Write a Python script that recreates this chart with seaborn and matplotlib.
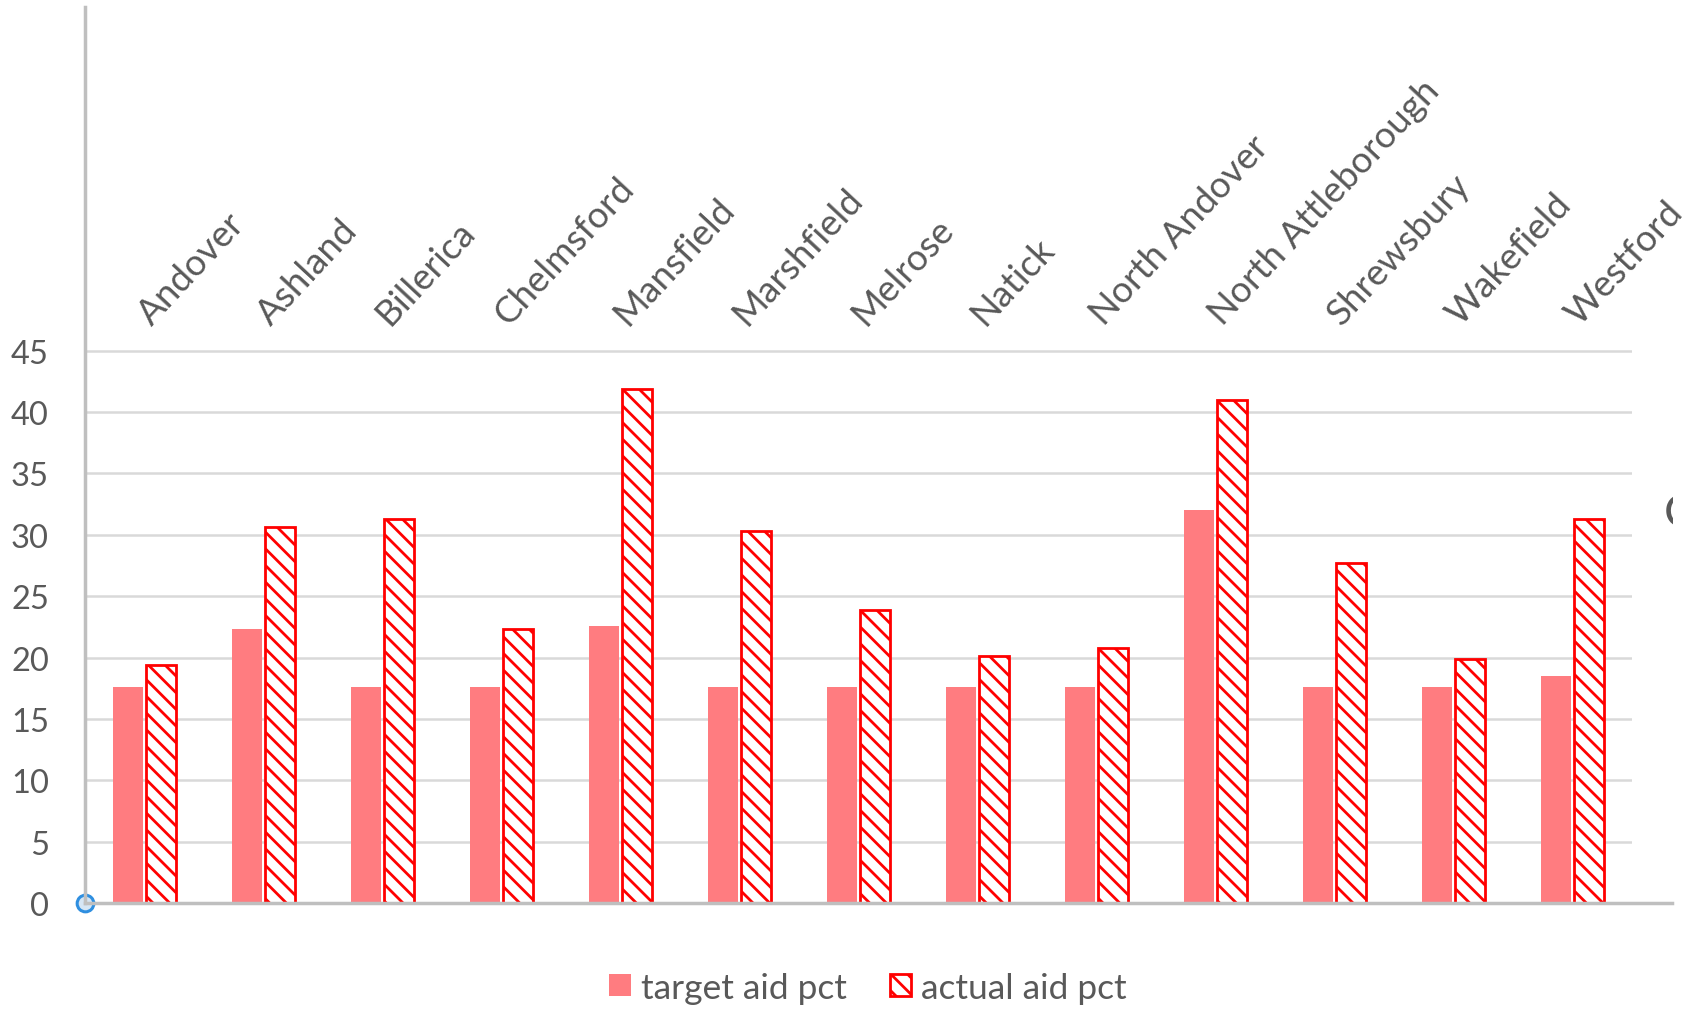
import matplotlib
matplotlib.use("Agg")
import matplotlib.pyplot as plt
from matplotlib.patches import Patch
from matplotlib.transforms import Bbox, TransformedBbox
import pandas as pd
import seaborn as sns

towns = [
    "Andover", "Ashland", "Billerica", "Chelmsford", "Mansfield", "Marshfield",
    "Melrose", "Natick", "North Andover", "North Attleborough", "Shrewsbury",
    "Wakefield", "Westford",
]
target_aid_pct = [17.6, 22.3, 17.6, 17.6, 22.6, 17.6, 17.6, 17.6, 17.6, 32.0, 17.6, 17.6, 18.5]
actual_aid_pct = [19.4, 30.6, 31.3, 22.3, 41.9, 30.3, 23.9, 20.1, 20.8, 41.0, 27.7, 19.9, 31.3]
series_names = ["target aid pct", "actual aid pct"]
y_ticks = [0, 5, 10, 15, 20, 25, 30, 35, 40, 45]

# long format for seaborn
df = pd.DataFrame({
    "town": towns * 2,
    "series": [series_names[0]] * len(towns) + [series_names[1]] * len(towns),
    "value": target_aid_pct + actual_aid_pct,
})

sns.set_style("white")
plt.rcParams["font.family"] = ["Lato", "DejaVu Sans"]
plt.rcParams["hatch.linewidth"] = 2.0

TEXT = "#595959"
PINK = "#FF7C80"
RED = "#FF0000"
AXIS = "#BFBFBF"

fig = plt.figure(figsize=(16.89, 10.12), dpi=100)
ax = fig.add_axes([85 / 1689, 108 / 1012, 1547 / 1689, 896 / 1012])

sns.barplot(
    data=df, x="town", y="value", hue="series",
    palette=[PINK, "white"], saturation=1, width=0.55, gap=0.1,
    legend=False, ax=ax,
)

for bar in ax.containers[0]:
    bar.set_linewidth(0)
for bar in ax.containers[1]:
    bar.set_facecolor("white")
    bar.set_edgecolor(RED)
    bar.set_hatch("\\\\")
    bar.set_linewidth(2)

# axes styling
ax.set_xlim(-0.5, len(towns) - 0.5)
ax.set_ylim(0, 73)
ax.set_yticks(y_ticks)
ax.set_xticks([])
ax.set_xlabel("")
ax.set_ylabel("")
ax.tick_params(axis="y", length=0, pad=26, labelsize=23.5, labelcolor=TEXT)
ax.yaxis.grid(True, color="#D9D9D9", linewidth=1.8)
ax.set_axisbelow(True)

for side in ["top", "right"]:
    ax.spines[side].set_visible(False)
ax.spines["left"].set_color(AXIS)
ax.spines["left"].set_linewidth(2.5)
ax.spines["bottom"].set_color(AXIS)
ax.spines["bottom"].set_linewidth(2.5)
ax.spines["bottom"].set_bounds(-0.5, len(towns) - 0.5 + 0.34)

# category labels above the plot
for i, name in enumerate(towns):
    ax.text(i + 0.06, 47, name, rotation=47, rotation_mode="anchor",
            ha="left", va="baseline", fontsize=26.5, color=TEXT)

# little handle at the origin
ax.plot([0], [0], marker="o", markersize=12, markerfacecolor="#D6E6F5",
        markeredgecolor="#2F8FE0", markeredgewidth=2.2,
        transform=ax.transAxes, clip_on=False)

# cut-off glyph at the right edge
clip = TransformedBbox(Bbox.from_extents(0, 0, 1673 / 1689, 1), fig.transFigure)
glyph = fig.text(1664 / 1689, 0.492, "C", fontsize=34, color=TEXT,
                 ha="left", va="center")
glyph.set_clip_box(clip)
glyph.set_clip_on(True)

handles = [
    Patch(facecolor=PINK, edgecolor="none"),
    Patch(facecolor="white", edgecolor=RED, hatch="\\\\", linewidth=2),
]
fig.legend(handles, series_names, loc="center", bbox_to_anchor=(0.514, 0.023),
           ncol=2, frameon=False, fontsize=25.5, labelcolor=TEXT,
           handlelength=0.6, handleheight=0.6, handletextpad=0.3,
           columnspacing=1.2)

fig.savefig("out.png", dpi=100)
